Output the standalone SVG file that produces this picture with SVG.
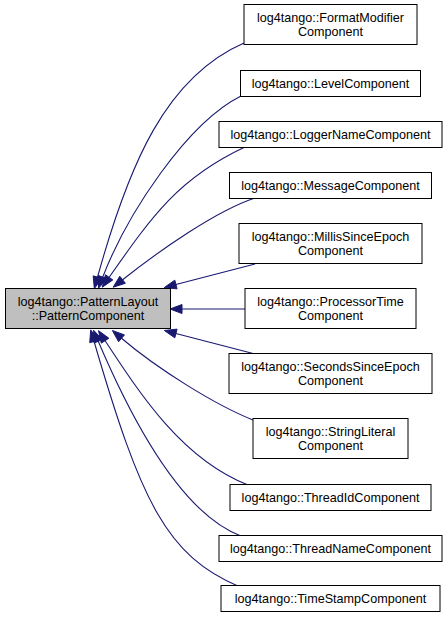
<svg xmlns="http://www.w3.org/2000/svg" width="448" height="619" viewBox="0 0 448 619">
<style>
.bg{fill:#ffffff}
.node rect{fill:#ffffff;stroke:#000000;stroke-width:1}
.node.main rect{fill:#bfbfbf}
.node text{font-family:"Liberation Sans",Arial,Helvetica,sans-serif;font-size:12.6px;fill:#000000;text-anchor:middle}
.edges path{fill:none;stroke:#191970;stroke-width:1.1}
.edges polygon{fill:#191970;stroke:#191970;stroke-width:1}
</style>
<rect class="bg" x="0" y="0" width="448" height="619"/>
<g id="edges" class="edges">
<path d="M244,43 C166.1,77 128.9,163.3 97,279"/>
<polygon points="94.34,288.64 93.19,275.87 101.87,278.27"/>
<path d="M241,96 C187.4,122.8 126.9,213.55 102,279"/>
<polygon points="98.45,288.35 98.5,275.53 106.92,278.73"/>
<path d="M245,147 C177.5,178.5 151,217.6 108,279"/>
<polygon points="102.26,287.19 105.46,274.78 112.84,279.94"/>
<path d="M255,198 C217,210.4 160,250 121,281"/>
<polygon points="113.17,287.22 119.77,276.24 125.37,283.28"/>
<path d="M255,264 L174,285"/>
<polygon points="164.32,287.51 174.81,280.14 177.07,288.86"/>
<path d="M245,309 L180,309"/>
<polygon points="170,309 182,304.5 182,313.5"/>
<path d="M255,354 L174,333"/>
<polygon points="164.32,330.49 177.07,329.14 174.81,337.86"/>
<path d="M120,337 C158,369.5 215.8,405.2 253,420"/>
<polygon points="112.4,330.5 124.45,334.88 118.6,341.72"/>
<path d="M104,339 C142.5,397.8 182.9,459.1 248,485"/>
<polygon points="98.52,330.63 108.87,338.2 101.33,343.14"/>
<path d="M97.5,339.5 C136.5,431.5 185.2,515 241,536"/>
<polygon points="93.6,330.29 102.42,339.58 94.14,343.1"/>
<path d="M93.5,339.5 C141.1,502.7 166.4,555.8 240,587"/>
<polygon points="90.7,329.9 98.38,340.16 89.74,342.68"/>
</g>
<g id="node-main" class="node main">
<rect x="5.5" y="288.5" width="165" height="40"/>
<text x="88" y="305.5">log4tango::PatternLayout</text>
<text x="88" y="319.5">::PatternComponent</text>
</g>
<g id="node-formatmodifier" class="node">
<rect x="244" y="4.5" width="173" height="40"/>
<text x="330.5" y="21.5">log4tango::FormatModifier</text>
<text x="330.5" y="35.5">Component</text>
</g>
<g id="node-level" class="node">
<rect x="240.5" y="70.5" width="180" height="26"/>
<text x="330.5" y="87.5">log4tango::LevelComponent</text>
</g>
<g id="node-loggername" class="node">
<rect x="219" y="121.5" width="223" height="26"/>
<text x="330.5" y="138.5">log4tango::LoggerNameComponent</text>
</g>
<g id="node-message" class="node">
<rect x="229.5" y="172.5" width="202" height="26"/>
<text x="330.5" y="189.5">log4tango::MessageComponent</text>
</g>
<g id="node-millis" class="node">
<rect x="239" y="223.5" width="183" height="40"/>
<text x="330.5" y="240.5">log4tango::MillisSinceEpoch</text>
<text x="330.5" y="254.5">Component</text>
</g>
<g id="node-processortime" class="node">
<rect x="245" y="288.5" width="171" height="40"/>
<text x="330.5" y="305.5">log4tango::ProcessorTime</text>
<text x="330.5" y="319.5">Component</text>
</g>
<g id="node-seconds" class="node">
<rect x="229" y="353.5" width="203" height="40"/>
<text x="330.5" y="370.5">log4tango::SecondsSinceEpoch</text>
<text x="330.5" y="384.5">Component</text>
</g>
<g id="node-stringliteral" class="node">
<rect x="253" y="418.5" width="155" height="40"/>
<text x="330.5" y="435.5">log4tango::StringLiteral</text>
<text x="330.5" y="449.5">Component</text>
</g>
<g id="node-threadid" class="node">
<rect x="230" y="484.5" width="201" height="26"/>
<text x="330.5" y="501.5">log4tango::ThreadIdComponent</text>
</g>
<g id="node-threadname" class="node">
<rect x="219" y="535.5" width="223" height="26"/>
<text x="330.5" y="552.5">log4tango::ThreadNameComponent</text>
</g>
<g id="node-timestamp" class="node">
<rect x="221" y="585.5" width="219" height="26"/>
<text x="330.5" y="602.5">log4tango::TimeStampComponent</text>
</g>
</svg>
